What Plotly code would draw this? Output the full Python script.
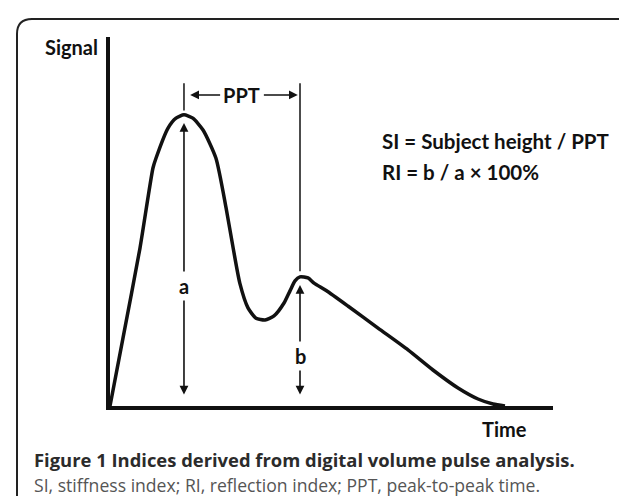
import plotly.graph_objects as go

# ---- data (arbitrary units, time 0-100, signal 0-100) ----
time = [0, 2.93, 6.77, 9.7, 10.4, 13.1, 14.9, 16.7, 18.7, 21.0, 23.9, 26.2, 27.8, 29.3,
        31.15, 32.96, 34.99, 37.02, 39.28, 40.63, 41.76, 42.89, 44.7, 46.05, 48.8, 53.7,
        60.5, 67.27, 72.9, 78.56, 83.07, 86.46, 89.16]
signal = [0, 18.4, 42.8, 64.5, 67.2, 75.3, 78.0, 78.9, 78.0, 74.8, 67.2, 53.7, 42.8, 33.3,
          26.6, 23.8, 23.3, 24.4, 27.9, 31.2, 33.9, 35.0, 34.7, 33.3, 31.3, 27.1,
          21.1, 15.2, 9.76, 4.88, 1.9, 0.54, 0]

peak_times = [16.7, 42.89]      # systolic peak, diastolic (reflected) peak
peak_values = [78.9, 35.0]      # a, b
arrow_bottom = 2.7              # lower arrow tips
labels_ab = ["a", "b"]
label_levels = [32.5, 13.5]     # where the a / b labels sit
ppt_top = 87.5
ppt_level = 84.3
formula_lines = ["SI = Subject height / PPT", "RI = b / a × 100%"]

W, H = 627, 496
L, R, T, B = 102, 82, 29, 98
PW, PH = W - L - R, H - T - B


def px(x):
    return (x - L) / PW


def py(y):
    return 1 - (y - T) / PH


FONT = dict(family="Lato", size=20, color="#111111")

fig = go.Figure()
fig.add_trace(go.Scatter(x=time, y=signal, mode="lines",
                         line=dict(color="#111111", width=3.5, shape="spline", smoothing=0.6),
                         hoverinfo="skip", showlegend=False))

ann = []
shapes = []

# a / b double arrows
for t, v, lab, lv in zip(peak_times, peak_values, labels_ab, label_levels):
    tip_top = v - 2.2
    ann.append(dict(x=t, y=tip_top, ax=t, ay=arrow_bottom, xref="x", yref="y",
                    axref="x", ayref="y", text="", showarrow=True, arrowhead=2,
                    arrowside="end+start", arrowsize=1.1, arrowwidth=1.6,
                    arrowcolor="#111111"))
    ann.append(dict(x=t, y=lv, xref="x", yref="y", text="<b>" + lab + "</b>",
                    showarrow=False, bgcolor="white", borderpad=2, font=FONT))

# PPT vertical markers
shapes.append(dict(type="line", xref="x", yref="y", x0=peak_times[0], x1=peak_times[0],
                   y0=peak_values[0] + 1.2, y1=ppt_top, line=dict(color="#111111", width=1.5)))
shapes.append(dict(type="line", xref="x", yref="y", x0=peak_times[1], x1=peak_times[1],
                   y0=peak_values[1] + 1.5, y1=ppt_top, line=dict(color="#111111", width=1.5)))
# PPT arrows and label
mid = (peak_times[0] + peak_times[1]) / 2
ann.append(dict(x=peak_times[0] + 1.4, y=ppt_level, ax=mid - 4.6, ay=ppt_level,
                xref="x", yref="y", axref="x", ayref="y", text="", showarrow=True,
                arrowhead=2, arrowsize=1.1, arrowwidth=1.6, arrowcolor="#111111"))
ann.append(dict(x=peak_times[1] - 0.5, y=ppt_level, ax=mid + 4.6, ay=ppt_level,
                xref="x", yref="y", axref="x", ayref="y", text="", showarrow=True,
                arrowhead=2, arrowsize=1.1, arrowwidth=1.6, arrowcolor="#111111"))
ann.append(dict(x=mid, y=ppt_level, xref="x", yref="y", text="<b>PPT</b>", showarrow=False,
                font=FONT))

# formulas
ann.append(dict(x=px(372), y=py(133), xref="paper", yref="paper", xanchor="left",
                yanchor="middle", text="<b>" + formula_lines[0] + "</b>", showarrow=False,
                font=dict(family="Lato", size=20.5, color="#111111")))
ann.append(dict(x=px(372), y=py(164), xref="paper", yref="paper", xanchor="left",
                yanchor="middle", text="<b>" + formula_lines[1] + "</b>", showarrow=False,
                font=dict(family="Lato", size=20.5, color="#111111")))

# axis titles
ann.append(dict(x=px(92), y=py(39), xref="paper", yref="paper", xanchor="right",
                yanchor="middle", text="<b>Signal</b>", showarrow=False, font=FONT))
ann.append(dict(x=px(496), y=py(421), xref="paper", yref="paper", xanchor="center",
                yanchor="middle", text="<b>Time</b>", showarrow=False, font=FONT))

# caption
ann.append(dict(x=px(24), y=py(452), xref="paper", yref="paper", xanchor="left",
                yanchor="middle",
                text="<b>Figure 1 Indices derived from digital volume pulse analysis.</b>",
                showarrow=False, font=dict(family="Open Sans", size=18.4, color="#2b2b2b")))
ann.append(dict(x=px(24), y=py(477), xref="paper", yref="paper", xanchor="left",
                yanchor="middle",
                text="SI, stiffness index; RI, reflection index; PPT, peak-to-peak time.",
                showarrow=False, font=dict(family="Open Sans", size=17.6, color="#555555")))

# rounded frame
x0, y0, xr, yb, r = 9, 11, 628, 520, 15
path = (f"M {px(x0)},{py(yb)} L {px(x0)},{py(y0 + r)} "
        f"Q {px(x0)},{py(y0)} {px(x0 + r)},{py(y0)} "
        f"L {px(xr - r)},{py(y0)} Q {px(xr)},{py(y0)} {px(xr)},{py(y0 + r)} "
        f"L {px(xr)},{py(yb)}")
shapes.append(dict(type="path", xref="paper", yref="paper", path=path,
                   line=dict(color="#222222", width=2)))

fig.update_layout(
    width=W, height=H, margin=dict(l=L, r=R, t=T, b=B),
    paper_bgcolor="white", plot_bgcolor="white",
    xaxis=dict(range=[0, 100], showline=True, linecolor="#111111", linewidth=3.5,
               showgrid=False, zeroline=False, showticklabels=False, ticks=""),
    yaxis=dict(range=[0, 100], showline=True, linecolor="#111111", linewidth=3.5,
               showgrid=False, zeroline=False, showticklabels=False, ticks=""),
    annotations=ann, shapes=shapes,
)

fig.write_html("out.html")
